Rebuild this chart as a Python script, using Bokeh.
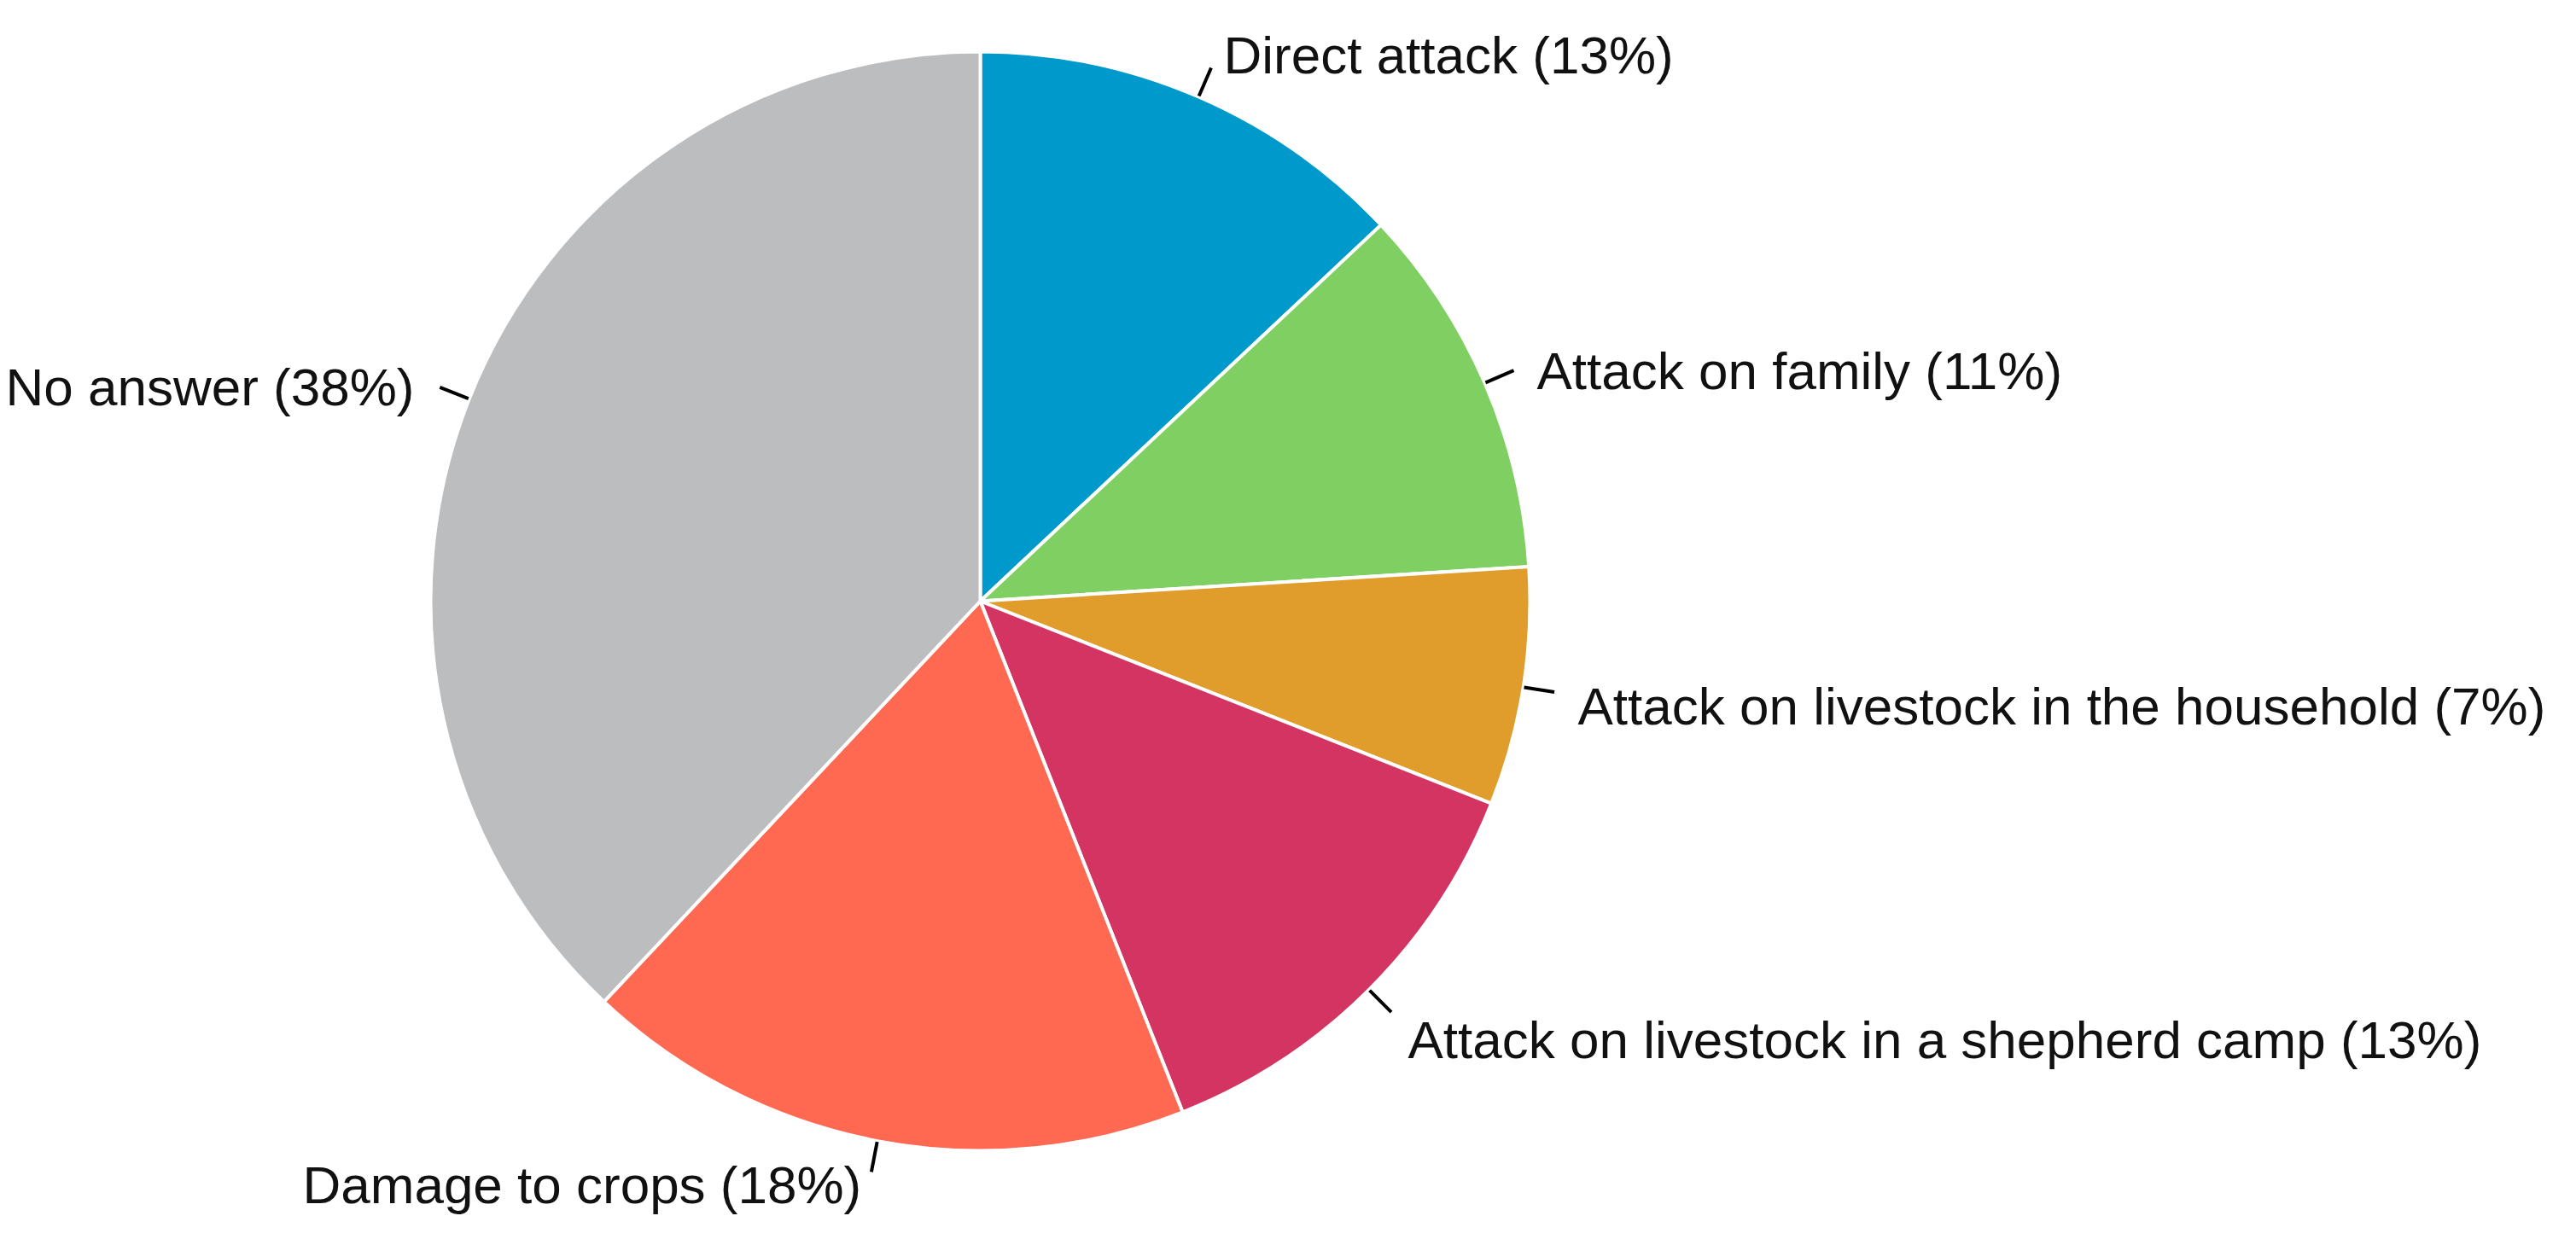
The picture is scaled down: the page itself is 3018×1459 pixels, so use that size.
import math
from bokeh.plotting import figure
from bokeh.models import Range1d, ColumnDataSource
from bokeh.core.properties import value
from bokeh.embed import file_html
from bokeh.resources import INLINE

# ---- data ----
categories = [
    "Direct attack",
    "Attack on family",
    "Attack on livestock in the household",
    "Attack on livestock in a shepherd camp",
    "Damage to crops",
    "No answer",
]
percents = [13, 11, 7, 13, 18, 38]
colors = ["#0099CB", "#80CF62", "#E09D2B", "#D33462", "#FF6851", "#BBBDBF"]

# ---- layout (page pixels -> data units 1:1) ----
W, H = 3000, 1443
OFF = 8                      # page margin
CX, CY = 1156 - OFF, H - (712 - OFF)   # pie centre
R = 644

# label anchor: left x, baseline y (page pixels from top-left)
label_pos = [
    (1441, 72),
    (1808, 442),
    (1856, 835),
    (1657, 1226),
    (362, 1396),
    (14, 461),
]

p = figure(width=W, height=H, x_range=Range1d(0, W), y_range=Range1d(0, H),
           output_backend="svg", toolbar_location=None,
           min_border=0, outline_line_color=None)
p.axis.visible = False
p.grid.visible = False
p.background_fill_color = "white"

total = float(sum(percents))
starts, ends, mids = [], [], []
acc = 0.0
for v in percents:
    a0 = acc / total
    acc += v
    a1 = acc / total
    starts.append(math.pi / 2 - 2 * math.pi * a0)
    ends.append(math.pi / 2 - 2 * math.pi * a1)
    mids.append(math.pi / 2 - 2 * math.pi * (a0 + a1) / 2)

src = ColumnDataSource(dict(start=starts, end=ends, color=colors))
p.wedge(x=CX, y=CY, radius=R, start_angle="start", end_angle="end",
        direction="clock", fill_color="color", line_color="white",
        line_width=4, source=src)

# leader ticks
xs, ys = [], []
for m in mids:
    r0, r1 = R + 1, R + 37
    xs.append([CX + r0 * math.cos(m), CX + r1 * math.cos(m)])
    ys.append([CY + r0 * math.sin(m), CY + r1 * math.sin(m)])
p.multi_line(xs=xs, ys=ys, line_color="black", line_width=4)

labels = [f"{c} ({v}%)" for c, v in zip(categories, percents)]
lx = [lp[0] - OFF for lp in label_pos]
ly = [H - (lp[1] - OFF) for lp in label_pos]
p.text(x=lx, y=ly, text=labels, text_align="left", text_baseline="alphabetic",
       text_font=value("Liberation Sans"), text_font_size="62px",
       text_color="#111111")

open("out.html", "w").write(file_html(p, INLINE))
